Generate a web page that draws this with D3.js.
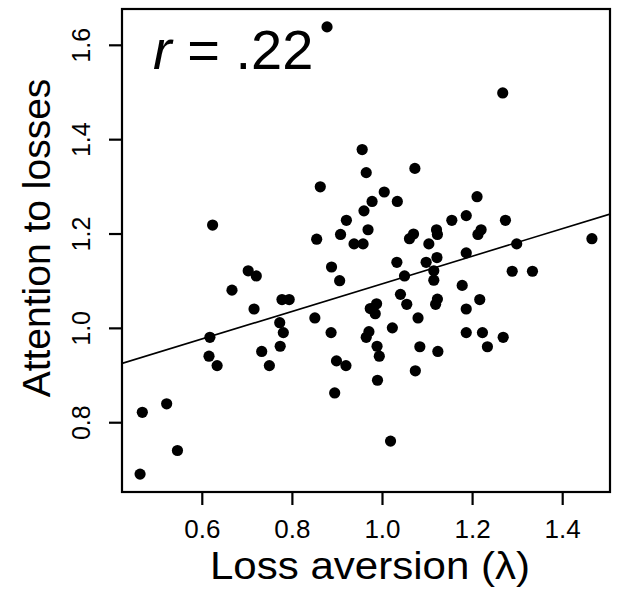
<!DOCTYPE html>
<html>
<head>
<meta charset="utf-8">
<script src="https://cdn.jsdelivr.net/npm/d3@7"></script>
<style>
  body { margin: 0; background: #fff; }
  text { font-family: "Liberation Sans", Arial, sans-serif; }
</style>
</head>
<body>
<svg id="chart" width="617" height="592"></svg>
<script>
// loss aversion (lambda) per participant
const lossAversion = [
  0.463, 0.468, 0.522, 0.546, 0.618, 0.616, 0.634, 0.624, 0.667, 0.703,
  0.721, 0.716, 0.733, 0.750, 0.778, 0.794, 0.773, 0.781, 0.774, 0.851,
  0.855, 0.863, 0.878, 0.888, 0.906, 0.887, 0.899, 0.920, 0.895, 0.908,
  0.921, 0.938, 0.958, 0.956, 0.965, 0.960, 0.969, 0.978, 1.005, 1.034,
  1.073, 1.061, 1.070, 1.104, 1.033, 1.098, 1.122, 1.050, 1.115, 1.115,
  1.041, 1.055, 1.080, 0.988, 0.974, 0.985, 1.023, 0.971, 0.965, 0.989,
  0.994, 1.084, 1.074, 0.990, 1.019, 1.123, 1.119, 1.124, 1.155, 1.187,
  1.211, 1.274, 1.121, 1.123, 1.220, 1.213, 1.187, 1.299, 1.466, 1.268,
  1.289, 1.334, 1.178, 1.217, 1.187, 1.187, 1.223, 1.269, 1.234
];
// attention to losses, same order
const attention = [
  0.690, 0.821, 0.839, 0.740, 0.980, 0.940, 0.920, 1.218, 1.080, 1.121,
  1.110, 1.040, 0.950, 0.920, 1.060, 1.060, 1.011, 0.990, 0.961, 1.021,
  1.188, 1.299, 1.638, 1.129, 1.100, 0.990, 0.930, 0.920, 0.862, 1.198,
  1.228, 1.178, 1.178, 1.378, 1.329, 1.248, 1.208, 1.268, 1.288, 1.268,
  1.338, 1.189, 1.199, 1.178, 1.139, 1.139, 1.149, 1.110, 1.121, 1.101,
  1.071, 1.050, 1.021, 1.051, 1.041, 1.030, 1.000, 0.992, 0.980, 0.961,
  0.940, 0.960, 0.909, 0.889, 0.760, 1.061, 1.050, 0.950, 1.228, 1.238,
  1.278, 1.228, 1.208, 1.198, 1.208, 1.198, 1.159, 1.178, 1.189, 1.498,
  1.120, 1.120, 1.090, 1.060, 1.040, 0.990, 0.990, 0.980, 0.960
];
const xTicks = [0.6, 0.8, 1.0, 1.2, 1.4];
const yTicks = [0.8, 1.0, 1.2, 1.4, 1.6];
const corrLabel = ".22";

const W = 617, H = 592;
const margin = { top: 9, right: 7, bottom: 100, left: 122 };

const svg = d3.select("#chart");
const points = lossAversion.map((x, i) => ({ x, y: attention[i] }));

// R-style 4% padding on the data range
function padded(ext) {
  const p = (ext[1] - ext[0]) * 0.04;
  return [ext[0] - p, ext[1] + p];
}

const x = d3.scaleLinear()
  .domain(padded(d3.extent(lossAversion)))
  .range([margin.left, W - margin.right]);
const y = d3.scaleLinear()
  .domain(padded(d3.extent(attention)))
  .range([H - margin.bottom, margin.top]);

// least squares fit
const mx = d3.mean(lossAversion), my = d3.mean(attention);
const slope = d3.sum(points, d => (d.x - mx) * (d.y - my)) /
  d3.sum(points, d => (d.x - mx) ** 2);
const intercept = my - slope * mx;

svg.append("clipPath").attr("id", "plot-clip")
  .append("rect")
  .attr("x", margin.left).attr("y", margin.top)
  .attr("width", W - margin.left - margin.right)
  .attr("height", H - margin.top - margin.bottom);

const xd = x.domain();
svg.append("line")
  .attr("clip-path", "url(#plot-clip)")
  .attr("x1", x(xd[0])).attr("y1", y(intercept + slope * xd[0]))
  .attr("x2", x(xd[1])).attr("y2", y(intercept + slope * xd[1]))
  .attr("stroke", "black")
  .attr("stroke-width", 1.6);

svg.append("g")
  .selectAll("circle")
  .data(points)
  .join("circle")
  .attr("cx", d => x(d.x))
  .attr("cy", d => y(d.y))
  .attr("r", 5.6)
  .attr("fill", "black");

// box
svg.append("rect")
  .attr("x", margin.left).attr("y", margin.top)
  .attr("width", W - margin.left - margin.right)
  .attr("height", H - margin.top - margin.bottom)
  .attr("fill", "none")
  .attr("stroke", "black")
  .attr("stroke-width", 2.2);

// x axis
const xAxis = svg.append("g")
  .attr("transform", `translate(0,${H - margin.bottom})`)
  .call(d3.axisBottom(x).tickValues(xTicks).tickFormat(d3.format(".1f"))
    .tickSize(13).tickPadding(15));
xAxis.select(".domain").remove();
xAxis.selectAll(".tick line").attr("stroke-width", 2.2);
xAxis.selectAll(".tick text")
  .attr("font-size", 26)
  .attr("font-family", "Liberation Sans, Arial, sans-serif")
  .attr("fill", "black");

// y axis, labels rotated like R's las=0
const yAxis = svg.append("g")
  .attr("transform", `translate(${margin.left},0)`)
  .call(d3.axisLeft(y).tickValues(yTicks).tickFormat(d3.format(".1f"))
    .tickSize(13));
yAxis.select(".domain").remove();
yAxis.selectAll(".tick line").attr("stroke-width", 2.2);
yAxis.selectAll(".tick text")
  .attr("font-size", 25)
  .attr("font-family", "Liberation Sans, Arial, sans-serif")
  .attr("fill", "black")
  .attr("x", null).attr("dy", null)
  .attr("text-anchor", "middle")
  .attr("transform", "translate(-32,0) rotate(-90)");

// axis titles
svg.append("text")
  .attr("x", 370)
  .attr("y", 579)
  .attr("text-anchor", "middle")
  .attr("font-size", 38)
  .attr("textLength", 320)
  .attr("lengthAdjust", "spacingAndGlyphs")
  .text("Loss aversion (λ)");

svg.append("text")
  .attr("transform", "translate(50,238) rotate(-90)")
  .attr("text-anchor", "middle")
  .attr("font-size", 39)
  .text("Attention to losses");

// correlation label
const corr = svg.append("text")
  .attr("x", 153).attr("y", 69)
  .attr("font-size", 56);
corr.append("tspan").attr("font-style", "italic").text("r");
corr.append("tspan").text(" = " + corrLabel);
</script>
</body>
</html>
